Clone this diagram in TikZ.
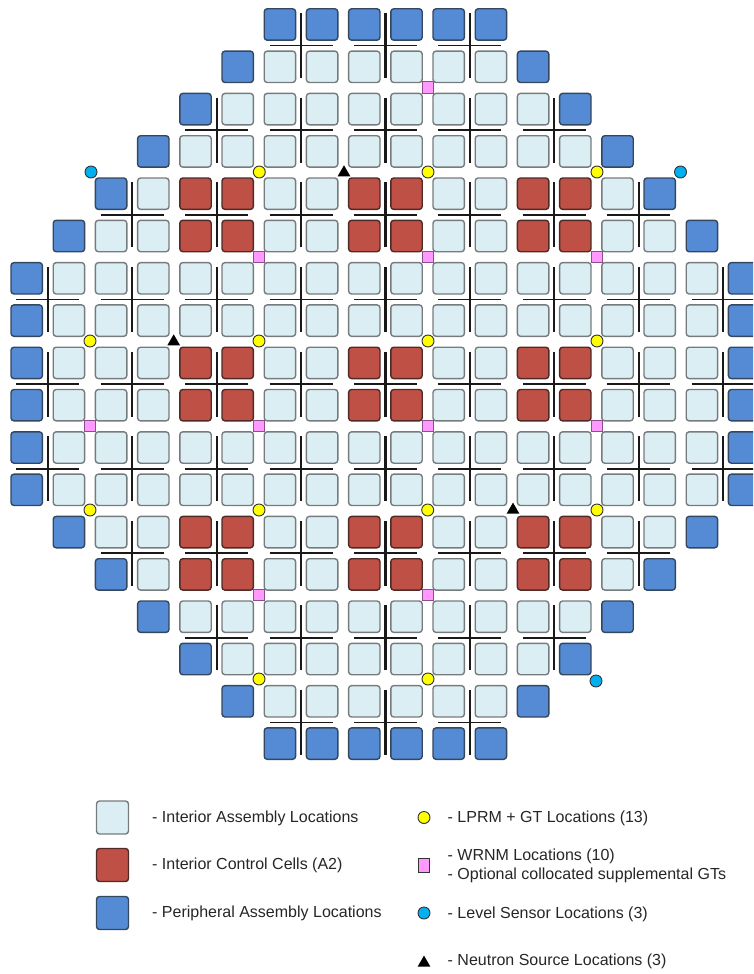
\documentclass[tikz,border=0pt]{standalone}
\usepackage{fontspec}
\setmainfont{Liberation Sans}
\usetikzlibrary{shapes.geometric}
\definecolor{intf}{HTML}{DBEEF3}
\definecolor{intd}{HTML}{767C7E}
\definecolor{redf}{HTML}{BE5045}
\definecolor{redd}{HTML}{4F2A27}
\definecolor{bluf}{HTML}{558BD5}
\definecolor{blud}{HTML}{33475F}
\definecolor{pinkf}{HTML}{FF99FF}
\definecolor{pinkd}{HTML}{8A4F8A}
\definecolor{cyanf}{HTML}{00B0F0}
\definecolor{yelf}{HTML}{FFFF00}
\tikzset{
  sq/.style={rectangle,rounded corners=3pt,minimum size=31.4pt,inner sep=0pt,line width=1.4pt,outer sep=0pt},
  legsq/.style={sq,minimum width=32pt,minimum height=33pt},
  dotm/.style={circle,minimum size=12pt,inner sep=0pt,line width=0.9pt,draw=black!80},
  yel/.style={dotm,fill=yelf},
  cya/.style={dotm,fill=cyanf},
  wrnm/.style={rectangle,minimum size=11.5pt,inner sep=0pt,line width=0.9pt,draw=pinkd,fill=pinkf},
  tri/.style={regular polygon,regular polygon sides=3,minimum size=14.8pt,inner sep=0pt,fill=black},
  txt/.style={anchor=west,inner sep=0pt,font=\fontsize{16}{19}\selectfont,text=black!85,align=left},
  armh/.style={line width=1.7pt,draw=black!90},
  armv/.style={line width=2.2pt,draw=black!90}
}
\newcommand{\cx}[1]{26.7+42.2*(#1)}
\newcommand{\cy}[1]{24.5+42.3*(#1)}
\begin{document}
\begin{tikzpicture}[x=1pt,y=-1pt]
\path[use as bounding box] (0,0) rectangle (753,974);
\clip (0,0) rectangle (753,974);
% assemblies
\foreach \r/\L in {0/6,1/5,2/4,3/3,4/2,5/1,6/0,7/0,8/0,9/0,10/0,11/0,12/1,13/2,14/3,15/4,16/5,17/6}{
  \pgfmathtruncatemacro{\R}{17-\L}
  \foreach \c in {\L,...,\R}{
    \def\fc{intf}\def\dc{intd}
    \pgfmathtruncatemacro{\isred}{(\r==4||\r==5||\r==8||\r==9||\r==12||\r==13)&&(\c==4||\c==5||\c==8||\c==9||\c==12||\c==13)?1:0}
    \ifnum\isred=1 \def\fc{redf}\def\dc{redd}\fi
    \ifnum\c=\L \def\fc{bluf}\def\dc{blud}\fi
    \ifnum\c=\R \def\fc{bluf}\def\dc{blud}\fi
    \ifnum\r=0 \def\fc{bluf}\def\dc{blud}\fi
    \ifnum\r=17 \def\fc{bluf}\def\dc{blud}\fi
    \node[sq,fill=\fc,draw=\dc] (a-\r-\c) at ({\cx{\c}},{\cy{\r}}) {};
  }
}
% control rod crosses
\foreach \r/\L in {0/6,2/4,4/2,6/0,8/0,10/0,12/2,14/4,16/6}{
  \pgfmathtruncatemacro{\R}{16-\L}
  \pgfmathtruncatemacro{\Ls}{\L+2}
  \foreach \c in {\L,\Ls,...,\R}{
    \coordinate (m-\r-\c) at ({\cx{\c+0.5}},{\cy{\r+0.5}});
    \draw[armh] ([xshift=-31.5pt]m-\r-\c) -- ([xshift=31.5pt]m-\r-\c);
    \draw[armv] ([yshift=-32.5pt]m-\r-\c) -- ([yshift=32.5pt]m-\r-\c);
  }
}
% LPRM + GT
\foreach \n/\x/\y in {1/259.3/172,2/428/172,3/597/172,4/90/341,5/259/341,6/428/341,7/597/341,8/90/510,9/259/510,10/427.7/510,11/597/510,12/259/679,13/428/679}
  \node[yel] (y\n) at (\x,\y) {};
% WRNM
\foreach \n/\x/\y in {1/428/87.5,2/259/257,3/428/257,4/597/257,5/90/426,6/259/426,7/428/426,8/597/426,9/259/595,10/428/595}
  \node[wrnm] (w\n) at (\x,\y) {};
% level sensors
\foreach \n/\x/\y in {1/91/172,2/680.5/172,3/596/681}
  \node[cya] (l\n) at (\x,\y) {};
% neutron sources
\foreach \n/\x/\y in {1/344/172.7,2/173.7/341.7,3/513/510}
  \node[tri] (n\n) at (\x,\y) {};
% legend
\node[legsq,fill=intf,draw=intd] (k1) at (112.5,817.5) {};
\node[legsq,fill=redf,draw=redd] (k2) at (112.5,865) {};
\node[legsq,fill=bluf,draw=blud] (k3) at (112.5,913) {};
\node[txt] (t1) at (152,818) {- Interior Assembly Locations};
\node[txt] (t2) at (152,865.5) {- Interior Control Cells (A2)};
\node[txt] (t3) at (152,913.5) {- Peripheral Assembly Locations};
\node[yel] (k4) at (424,817.5) {};
\node[wrnm,draw=black!80,minimum width=11pt,minimum height=14pt] (k5) at (424,865) {};
\node[cya] (k6) at (424,913) {};
\node[tri] (k7) at (424,963) {};
\node[txt] (t4) at (447.5,818) {- LPRM + GT Locations (13)};
\node[txt] (t5) at (447.5,865.5) {- WRNM Locations (10)\\- Optional collocated supplemental GTs};
\node[txt] (t6) at (447.5,914) {- Level Sensor Locations (3)};
\node[txt] (t7) at (447.5,961.5) {- Neutron Source Locations (3)};
\end{tikzpicture}
\end{document}
